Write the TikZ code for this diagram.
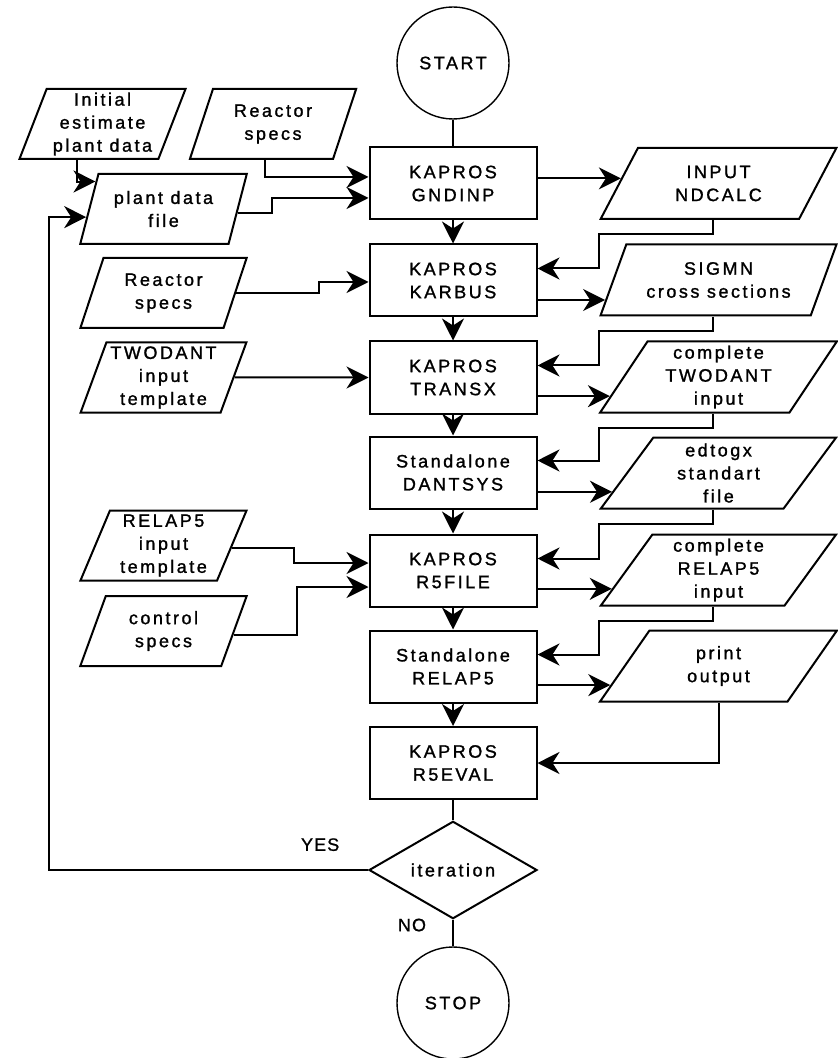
\documentclass[tikz,border=0pt]{standalone}
\usepackage{fontspec}
\setmainfont{Liberation Sans}[LetterSpace=14, FakeBold=1.3]
\newfontfamily\yesnofont{Liberation Sans}[LetterSpace=6, FakeBold=1]
\usepackage{tikz}
\usetikzlibrary{arrows.meta,shapes.geometric}
\tikzset{
  txt/.style={font=\fontsize{9pt}{11.5pt}\selectfont, align=center, inner sep=0pt},
  proc/.style={txt, draw, line width=1pt, minimum width=83.5pt, minimum height=36pt},
  datl/.style={txt, trapezium, trapezium left angle=69, trapezium right angle=111,
    trapezium stretches=true, draw, line width=1pt, minimum width=83.5pt, minimum height=35pt},
  datr/.style={txt, trapezium, trapezium left angle=60.6, trapezium right angle=119.4,
    trapezium stretches=true, draw, line width=1pt, minimum width=118.5pt, minimum height=35.5pt},
  term/.style={txt, circle, draw, line width=0.7pt, minimum size=56pt},
  dec/.style={txt, diamond, draw, line width=1pt, minimum width=84pt, minimum height=46.5pt},
  flow/.style={-{Stealth[length=11pt,width=11pt,inset=3.5pt]}, line width=1pt},
  link/.style={line width=1pt},
  yn/.style={font=\yesnofont\fontsize{9pt}{11.5pt}\selectfont, inner sep=0pt},
}

\begin{document}
\begin{tikzpicture}[x=0.5pt,y=-0.5pt]
  \useasboundingbox (0,0) rectangle (838,1058);

  % --- main column ---
  \node[term] (start) at (453,63) {START};
  \node[proc] (gndinp) at (453,183.5) {KAPROS\\GNDINP};
  \node[proc] (karbus) at (453,280.5) {KAPROS\\KARBUS};
  \node[proc] (transx) at (453,377.5) {KAPROS\\TRANSX};
  \node[proc] (dantsys) at (453,472.5) {Standalone\\DANTSYS};
  \node[proc] (r5file) at (453,570.5) {KAPROS\\R5FILE};
  \node[proc] (relap) at (453,666.5) {Standalone\\RELAP5};
  \node[proc] (r5eval) at (453,763) {KAPROS\\R5EVAL};
  \node[dec] (iter) at (453,870) {iteration};
  \node[term] (stop) at (453,1003) {STOP};

  % --- left inputs ---
  \node[datl] (init) at (102.5,124) {Initial\\estimate\\plant data};
  \node[datl] (rspec) at (273,124) {Reactor\\specs};
  \node[datl] (pfile) at (163.5,209) {plant data\\file};
  \node[datl] (rspecb) at (163.5,293) {Reactor\\specs};
  \node[datl] (tpltwo) at (163.5,377.5) {TWODANT\\input\\template};
  \node[datl] (tplrel) at (163.5,545.5) {RELAP5\\input\\template};
  \node[datl] (ctrl) at (163.5,631) {control\\specs};

  % --- right files ---
  \node[datr] (ndcalc) at (718.5,183.5) {INPUT\\NDCALC};
  \node[datr] (sigmn) at (718.5,280) {SIGMN\\cross sections};
  \node[datr] (twoinp) at (718.5,377) {complete\\TWODANT\\input};
  \node[datr] (edtogx) at (718.5,473) {edtogx\\standart\\file};
  \node[datr] (relinp) at (718.5,570) {complete\\RELAP5\\input};
  \node[datr] (prout) at (718.5,666) {print\\output};

  % --- main flow ---
  \draw[link] (start) -- (gndinp);
  \draw[flow] (gndinp) -- (karbus);
  \draw[flow] (karbus) -- (transx);
  \draw[flow] (transx) -- (dantsys);
  \draw[flow] (dantsys) -- (r5file);
  \draw[flow] (r5file) -- (relap);
  \draw[flow] (relap) -- (r5eval);
  \draw[link] (r5eval) -- (iter);
  \draw[link] (iter) -- (stop) node[pos=0.2, left=13pt, yn] {NO};
  \draw[flow] (iter.west) -- ++(-319,0) node[pos=0.15, above=9pt, yn] {YES} |- (pfile.186);

  % --- left side feeds ---
  \draw[flow] ([xshift=-13pt]init.south) |- (pfile.158);
  \draw[flow] ([xshift=-4pt]rspec.south) |- ([yshift=3.25pt]gndinp.west);
  \draw[flow] (pfile.-3) -- ++(34,0) |- ([yshift=-7.25pt]gndinp.west);
  \draw[flow] (rspecb.east) -- ++(83,0) |- ([yshift=-0.75pt]karbus.west);
  \draw[flow] (tpltwo) -- (transx);
  \draw[flow] (tplrel.-2) -- ++(62,0) |- ([yshift=3.75pt]r5file.west);
  \draw[flow] (ctrl.-3) -- ++(63,0) |- ([yshift=-8.25pt]r5file.west);

  % --- right side files ---
  \draw[flow] (gndinp.east |- ndcalc.177) -- (ndcalc.177);
  \draw[flow] ([xshift=-3pt]ndcalc.south) -- ++(0,14) -| ([xshift=30.5pt,yshift=6pt]karbus.east) -- ([yshift=6pt]karbus.east);
  \draw[flow] (karbus.east |- sigmn.190) -- (sigmn.190);
  \draw[flow] ([xshift=-3pt]sigmn.south) -- ++(0,14) -| ([xshift=30.5pt,yshift=6pt]transx.east) -- ([yshift=6pt]transx.east);
  \draw[flow] (transx.east |- twoinp.190) -- (twoinp.190);
  \draw[flow] ([xshift=-3pt]twoinp.south) -- ++(0,14) -| ([xshift=30.5pt,yshift=6pt]dantsys.east) -- ([yshift=6pt]dantsys.east);
  \draw[flow] (dantsys.east |- edtogx.190) -- (edtogx.190);
  \draw[flow] ([xshift=-3pt]edtogx.south) -- ++(0,14) -| ([xshift=30.5pt,yshift=6pt]r5file.east) -- ([yshift=6pt]r5file.east);
  \draw[flow] (r5file.east |- relinp.190) -- (relinp.190);
  \draw[flow] ([xshift=-3pt]relinp.south) -- ++(0,14) -| ([xshift=30.5pt,yshift=6pt]relap.east) -- ([yshift=6pt]relap.east);
  \draw[flow] (relap.east |- prout.190) -- (prout.190);
  \draw[flow] (prout.south) |- (r5eval.east);
\end{tikzpicture}
\end{document}
